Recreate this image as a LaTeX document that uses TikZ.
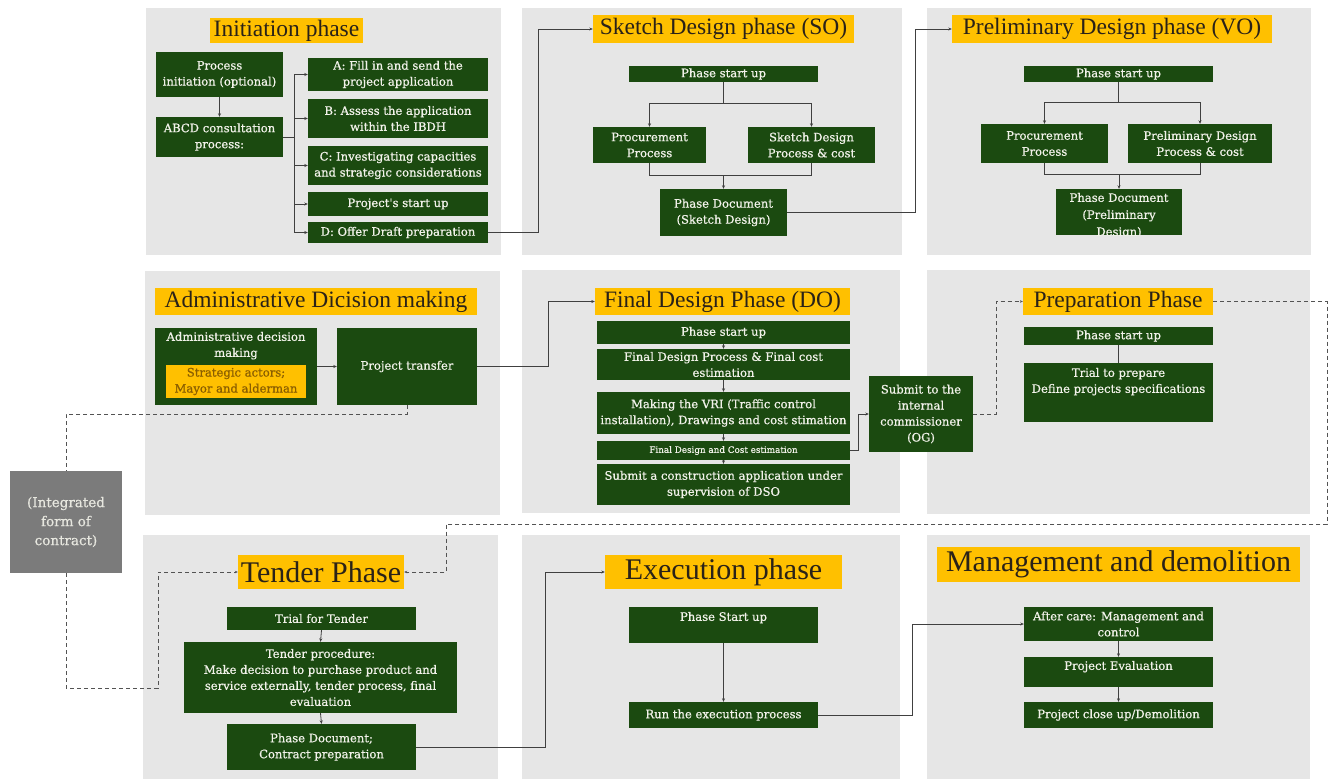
\documentclass[tikz,border=0pt]{standalone}
\usepackage{fontspec}
\setmainfont{DejaVu Serif}
\newfontfamily\boxfont{DejaVu Serif}[FakeBold=0.7]
\newfontfamily\titlefont{Liberation Serif}
\usetikzlibrary{arrows.meta,calc}

\definecolor{panelgray}{HTML}{E6E6E6}
\definecolor{boxgreen}{HTML}{1B4A10}
\definecolor{boxink}{HTML}{F2F2EA}
\definecolor{titleyellow}{HTML}{FFC000}
\definecolor{titleink}{HTML}{2A2218}
\definecolor{noteink}{HTML}{8A5E00}
\definecolor{linegray}{HTML}{404040}
\definecolor{contractgray}{HTML}{7B7B7B}

\tikzset{
  panel/.style={fill=panelgray, inner sep=0pt},
  gbox/.style={fill=boxgreen, text=boxink, inner sep=0pt, align=center,
    font=\boxfont\fontsize{11.6}{16}\selectfont},
  gtext/.style={text=boxink, inner sep=0pt, align=center,
    font=\boxfont\fontsize{11.6}{16}\selectfont},
  smallbox/.style={gbox, font=\boxfont\fontsize{8.8}{10}\selectfont},
  title/.style={fill=titleyellow, text=titleink, inner sep=0pt,
    font=\titlefont\fontsize{23.5}{26}\selectfont},
  bigtitle/.style={title, font=\titlefont\fontsize{30}{32}\selectfont},
  note/.style={fill=titleyellow, text=noteink, inner sep=0pt, align=center,
    font=\boxfont\fontsize{11.6}{16}\selectfont},
  contract/.style={fill=contractgray, text=boxink!90!gray, inner sep=0pt,
    align=center, font=\boxfont\fontsize{13.5}{19}\selectfont},
  link/.style={draw=linegray, line width=0.8pt},
  flow/.style={link, -{Stealth[length=3.5pt,width=3pt]}},
  dashline/.style={draw=linegray!90, line width=0.9pt, dash pattern=on 4pt off 3pt},
  dashflow/.style={dashline, -{Stealth[length=3pt,width=2.6pt]}}
}

% box given by its corners: style, name, x1, y1, x2, y2, text
\newcommand\boxat[7]{%
  \node[#1, minimum width={#5-#3}, minimum height={#6-#4}] (#2)
    at ({(#3+#5)/2},{(#4+#6)/2}) {#7};}

\begin{document}
\begin{tikzpicture}[x=1pt, y=-1pt]
\useasboundingbox (0,0) rectangle (1329,779);
\fill[white] (0,0) rectangle (1329,779);

% ---------- phase panels ----------
\boxat{panel}{p1}{146}{8}{501}{255}{}
\boxat{panel}{p2}{522}{8}{902}{255}{}
\boxat{panel}{p3}{927}{8}{1311}{255}{}
\boxat{panel}{p4}{145}{271}{500}{515}{}
\boxat{panel}{p5}{522}{270}{900}{513}{}
\boxat{panel}{p6}{927}{270}{1310}{514}{}
\boxat{panel}{p7}{143}{535}{498}{779}{}
\boxat{panel}{p8}{522}{535}{900}{779}{}
\boxat{panel}{p9}{927}{535}{1310}{779}{}

% ---------- phase titles ----------
\boxat{title}{t1}{210}{18}{363}{43}{Initiation phase}
\boxat{title}{t2}{593}{15}{854}{43}{Sketch Design phase (SO)}
\boxat{title}{t3}{952}{15}{1272}{43}{Preliminary Design phase (VO)}
\boxat{title}{t4}{155}{288}{477}{315}{Administrative Dicision making}
\boxat{title}{t5}{595}{288}{850}{315}{Final Design Phase (DO)}
\boxat{title}{t6}{1023}{288}{1213}{315}{Preparation Phase}
\boxat{bigtitle}{t7}{238}{555}{404}{589}{Tender Phase}
\boxat{bigtitle}{t8}{605}{555}{842}{589}{Execution phase}
\boxat{bigtitle}{t9}{937}{547}{1300}{582}{Management and demolition}

% ---------- initiation phase ----------
\boxat{gbox}{a0}{156}{52}{283}{97}{Process\\initiation (optional)}
\boxat{gbox}{a1}{156}{117}{283}{157}{ABCD consultation\\process:}
\boxat{gbox}{aA}{308}{58}{488}{91}{A: Fill in and send the\\project application}
\boxat{gbox}{aB}{308}{99}{488}{138}{B: Assess the application\\within the IBDH}
\boxat{gbox}{aC}{308}{146}{488}{185}{C: Investigating capacities\\and strategic considerations}
\boxat{gbox}{aS}{308}{192}{488}{216}{Project's start up}
\boxat{gbox}{aD}{308}{222}{488}{243}{D: Offer Draft preparation}

\draw[flow] (a0.south) -- (a1.north);
\draw[link] (a1.east) -- ++(11,0) coordinate (abus);
\foreach \t in {aA,aB,aC,aS,aD} \draw[flow] (abus) |- (\t.west);
\draw[flow] (aD.east) -- ++(50,0) |- (t2.west);

% ---------- sketch design phase ----------
\boxat{gbox}{b0}{629}{66}{818}{82}{Phase start up}
\boxat{gbox}{b1}{593}{127}{706}{163}{Procurement\\Process}
\boxat{gbox}{b2}{748}{127}{875}{163}{Sketch Design\\Process \& cost}
\boxat{gbox}{b3}{660}{189}{787}{236}{Phase Document\\(Sketch Design)}

\draw[link] (b0.south) -- ++(0,21) coordinate (bsplit);
\draw[flow] (bsplit) -| (b1.north);
\draw[flow] (bsplit) -| (b2.north);
\draw[link] (b1.south) -- ++(0,12) -| (b2.south);
\draw[flow] (b3.north |- 0,175) -- (b3.north);
\draw[flow] (b3.east) -- ++(128,0) |- (t3.west);

% ---------- preliminary design phase ----------
\boxat{gbox}{c0}{1024}{66}{1213}{82}{Phase start up}
\boxat{gbox}{c1}{981}{124}{1108}{163}{Procurement\\Process}
\boxat{gbox}{c2}{1128}{124}{1272}{163}{Preliminary Design\\Process \& cost}
\boxat{gbox}{c3}{1056}{189}{1182}{235}{}
\begin{scope}
  \clip (c3.south west) rectangle (c3.north east);
  \node[gtext, font=\boxfont\fontsize{11.6}{17}\selectfont, anchor=north] (c3t)
    at ($(c3.north)+(0,4)$) {Phase Document\\(Preliminary\\Design)};
\end{scope}

\draw[link] (c0.south) -- ++(0,20) coordinate (csplit);
\draw[flow] (csplit) -| (c1.north);
\draw[flow] (csplit) -| (c2.north);
\draw[link] (c1.south) -- ++(0,11) -| (c2.south);
\draw[flow] (c3.north |- 0,174) -- (c3.north);

% ---------- administrative decision making ----------
\boxat{gbox}{d0}{155}{328}{317}{405}{}
\node[gtext, anchor=north] (d0t) at ($(d0.north)+(0,4)$)
  {Administrative decision\\making};
\boxat{note}{d1}{166}{365}{306}{398}{Strategic actors;\\Mayor and alderman}
\boxat{gbox}{d2}{337}{328}{477}{405}{Project transfer}

\draw[flow] (d0.east) -- (d2.west);
\draw[flow] (d2.east) -- ++(71,0) |- (t5.west);

\boxat{contract}{g}{10}{471}{122}{573}{(Integrated\\form of\\contract)}
\draw[dashline] (d2.south) -- ++(0,9) -| (g.north);
\draw[dashflow] (g.south) |- (158,688) |- (t7.west);

% ---------- final design phase ----------
\boxat{gbox}{e0}{597}{321}{850}{344}{Phase start up}
\boxat{gbox}{e1}{597}{349}{850}{380}{Final Design Process \& Final cost\\estimation}
\boxat{gbox}{e2}{597}{392}{850}{434}{Making the VRI (Traffic control\\installation), Drawings and cost stimation}
\boxat{smallbox}{e3}{597}{441}{850}{460}{Final Design and Cost estimation}
\boxat{gbox}{e4}{597}{464}{850}{505}{Submit a construction application under\\supervision of DSO}
\boxat{gbox}{e5}{869}{376}{973}{452}{Submit to the\\internal\\commissioner\\(OG)}

\draw[flow] (e0.south) -- (e1.north);
\draw[flow] (e1.south) -- (e2.north);
\draw[flow] (e2.south) -- (e3.north);
\draw[flow] (e3.south) -- (e4.north);
\draw[flow] (e3.east) -- ++(8,0) |- (e5.west);
\draw[dashflow] (e5.east) -- ++(23,0) |- (t6.west);

% ---------- preparation phase ----------
\boxat{gbox}{f0}{1024}{327}{1213}{345}{Phase start up}
\boxat{gbox}{f1}{1024}{363}{1213}{422}{}
\node[gtext, anchor=north] (f1t) at ($(f1.north)+(0,5)$)
  {Trial to prepare\\Define projects specifications};
\draw[link] (f0.south) -- (f1.north);

\draw[dashflow] (t6.east) -| (1327,524) -- (446,524) |- (t7.east);

% ---------- tender phase ----------
\boxat{gbox}{h0}{227}{607}{416}{630}{Trial for Tender}
\boxat{gbox}{h1}{184}{642}{457}{713}{Tender procedure:\\Make decision to purchase product and\\service externally, tender process, final\\evaluation}
\boxat{gbox}{h2}{227}{724}{416}{770}{Phase Document;\\Contract preparation}

\draw[flow] (h0.south) -- (h1.north);
\draw[flow] (h1.south) -- (h2.north);
\draw[flow] (h2.east) -- ++(129,0) |- (t8.west);

% ---------- execution phase ----------
\boxat{gbox}{k0}{629}{607}{818}{643}{}
\node[gtext, anchor=north] (k0t) at ($(k0.north)+(0,5)$) {Phase Start up};
\boxat{gbox}{k1}{629}{702}{818}{728}{Run the execution process}

\draw[flow] (k0.south) -- (k1.north);

% ---------- management and demolition ----------
\boxat{gbox}{m0}{1024}{607}{1213}{641}{After care: Management and\\control}
\boxat{gbox}{m1}{1024}{657}{1213}{687}{}
\node[gtext, anchor=north] (m1t) at ($(m1.north)+(0,4)$) {Project Evaluation};
\boxat{gbox}{m2}{1024}{702}{1213}{728}{Project close up/Demolition}

\draw[flow] (k1.east) -- ++(94,0) |- (m0.west);
\draw[flow] (m0.south) -- (m1.north);
\draw[flow] (m1.south) -- (m2.north);
\end{tikzpicture}
\end{document}
